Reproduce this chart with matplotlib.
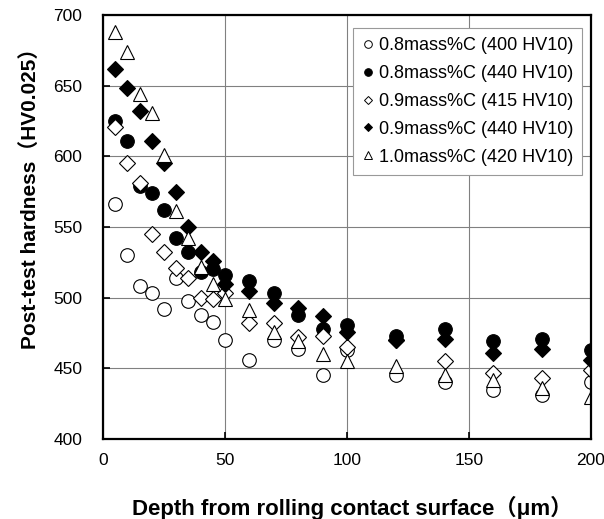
import matplotlib
matplotlib.use("Agg")
import matplotlib.pyplot as plt

plt.rcParams['font.family'] = ['Liberation Sans', 'Noto Sans CJK JP', 'DejaVu Sans']

# depth from surface (um)
depth = [5, 10, 15, 20, 25, 30, 35, 40, 45, 50, 60, 70, 80, 90, 100, 120, 140, 160, 180, 200]

c08_400 = [566, 530, 508, 503, 492, 514, 498, 488, 483, 470, 456, 470, 464, 445, 463, 445, 440, 435, 431, 440]
c08_440 = [625, 611, 579, 574, 562, 542, 532, 518, 520, 516, 512, 503, 488, 478, 481, 473, 478, 469, 471, 463]
c09_415 = [621, 595, 581, 545, 532, 521, 514, 500, 499, 503, 482, 482, 472, 473, 465, 470, 455, 447, 443, 449]
c09_440 = [662, 648, 632, 611, 595, 575, 550, 532, 526, 510, 505, 496, 493, 487, 476, 470, 471, 461, 464, 456]
c10_420 = [688, 674, 644, 631, 601, 561, 542, 522, 510, 499, 491, 476, 469, 460, 455, 452, 445, 442, 436, 430]

labels = ['0.8mass%C (400 HV10)', '0.8mass%C (440 HV10)', '0.9mass%C (415 HV10)',
          '0.9mass%C (440 HV10)', '1.0mass%C (420 HV10)']

fig = plt.figure(figsize=(6.04, 5.19), dpi=100)
ax = fig.add_axes([0.1705, 0.1541, 0.808, 0.817])

series = [c08_400, c08_440, c09_415, c09_440, c10_420]
markers = ['o', 'o', 'D', 'D', '^']
fills = ['white', 'black', 'white', 'black', 'white']
sizes = [9.8, 9.8, 7.7, 7.7, 10.5]

for ys, m, fc, ms, lab in zip(series, markers, fills, sizes, labels):
    ax.plot(depth, ys, linestyle='none', marker=m, markersize=ms,
            markerfacecolor=fc, markeredgecolor='black', markeredgewidth=0.8,
            label=lab)

ax.set_xlim(0, 200)
ax.set_ylim(400, 700)
ax.set_xticks(range(0, 201, 50))
ax.set_yticks(range(400, 701, 50))
ax.grid(True, color='#808080', linewidth=0.8)
ax.set_axisbelow(True)

for s in ax.spines.values():
    s.set_linewidth(1.6)

ax.tick_params(direction='in', length=5, width=1.2, labelsize=12.5)
ax.tick_params(axis='y', pad=15)
ax.tick_params(axis='x', pad=10)

ax.set_xlabel('Depth from rolling contact surface（μm）', fontsize=16,
              fontweight='bold')
ax.set_ylabel('Post-test hardness（HV0.025）', fontsize=15,
              fontweight='bold')
ax.xaxis.set_label_coords(0.51, -0.135)
ax.yaxis.set_label_coords(-0.13, 0.58)

leg = ax.legend(loc='upper right', bbox_to_anchor=(0.9816, 0.969), fontsize=13,
                handlelength=0.6, handletextpad=0.3, borderaxespad=0,
                labelspacing=0.6, borderpad=0.5, fancybox=False,
                framealpha=1, edgecolor='#999999')
leg.get_frame().set_linewidth(0.8)
for h in leg.legend_handles:
    h.set_markersize(5.5 if h.get_marker() != 'D' else 4.3)
    h.set_markeredgewidth(0.7)

fig.savefig('out.png', dpi=100)
